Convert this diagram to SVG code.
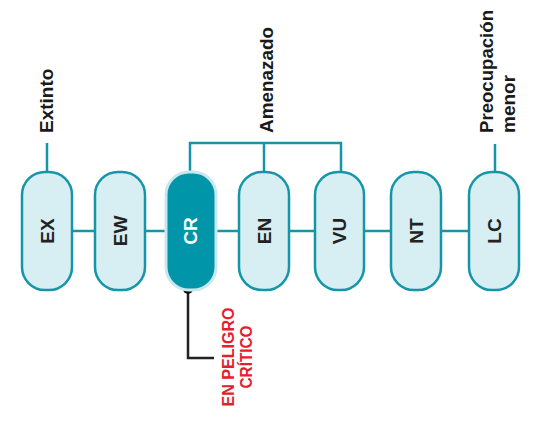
<svg xmlns="http://www.w3.org/2000/svg" width="533" height="426" viewBox="0 0 533 426">
<style>
.node{fill:#d7eef3;stroke:#1596a8;stroke-width:2.5}
.crit{fill:#0095a8;stroke:#c8e8ee;stroke-width:3}
.lbl{font-family:"Liberation Sans",Arial,sans-serif;font-weight:bold;font-size:19px;fill:#222}
.cat{font-family:"Liberation Sans",Arial,sans-serif;font-weight:bold;font-size:19px;fill:#1a1a1a}
.red{font-family:"Liberation Sans",Arial,sans-serif;font-weight:bold;font-size:16px;fill:#e5202e}
.con{fill:none;stroke:#1596a8;stroke-width:2.5}
</style>
<rect width="533" height="426" fill="#fff"/>
<g id="connectors">
<line class="con" x1="47" y1="231" x2="494" y2="231"/>
<line class="con" x1="47" y1="143" x2="47" y2="173"/>
<line class="con" x1="495" y1="144" x2="495" y2="173"/>
<polyline class="con" points="190,173 190,143 341,143 341,173"/>
<line class="con" x1="264" y1="143" x2="264" y2="173"/>
<polyline points="188,290 188,358 214,358" fill="none" stroke="#222" stroke-width="2.5"/>
<circle cx="188" cy="289" r="5" fill="#111"/>
</g>
<g id="label-extinto"><text class="cat" transform="translate(53,133) rotate(-90)">Extinto</text></g>
<g id="label-amenazado"><text class="cat" transform="translate(273,133) rotate(-90)" textLength="106" lengthAdjust="spacingAndGlyphs">Amenazado</text></g>
<g id="label-preocupacion"><text class="cat" transform="translate(493,133) rotate(-90)" textLength="123" lengthAdjust="spacingAndGlyphs">Preocupación</text><text class="cat" transform="translate(515,133) rotate(-90)">menor</text></g>
<g id="node-EX"><rect class="node" x="22" y="172" width="50" height="118" rx="23"/><text class="lbl" transform="translate(54,231) rotate(-90)" text-anchor="middle">EX</text></g>
<g id="node-EW"><rect class="node" x="95" y="172" width="50" height="118" rx="23"/><text class="lbl" transform="translate(127,231) rotate(-90)" text-anchor="middle">EW</text></g>
<g id="node-CR"><rect class="crit" x="166" y="172" width="50" height="118" rx="23"/><text class="lbl" fill="#fff" style="fill:#fff" transform="translate(197,231) rotate(-90)" text-anchor="middle">CR</text></g>
<g id="node-EN"><rect class="node" x="239" y="172" width="50" height="118" rx="23"/><text class="lbl" transform="translate(271,231) rotate(-90)" text-anchor="middle">EN</text></g>
<g id="node-VU"><rect class="node" x="315" y="172" width="49" height="118" rx="23"/><text class="lbl" transform="translate(346,231) rotate(-90)" text-anchor="middle">VU</text></g>
<g id="node-NT"><rect class="node" x="391" y="172" width="50" height="118" rx="23"/><text class="lbl" transform="translate(423,231) rotate(-90)" text-anchor="middle">NT</text></g>
<g id="node-LC"><rect class="node" x="469" y="172" width="50" height="118" rx="23"/><text class="lbl" transform="translate(501,231) rotate(-90)" text-anchor="middle">LC</text></g>
<g id="label-critico"><text class="red" transform="translate(234,357) rotate(-90)" text-anchor="middle" textLength="99" lengthAdjust="spacingAndGlyphs">EN PELIGRO</text><text class="red" transform="translate(252,357) rotate(-90)" text-anchor="middle" textLength="63" lengthAdjust="spacingAndGlyphs">CRÍTICO</text></g>
</svg>
